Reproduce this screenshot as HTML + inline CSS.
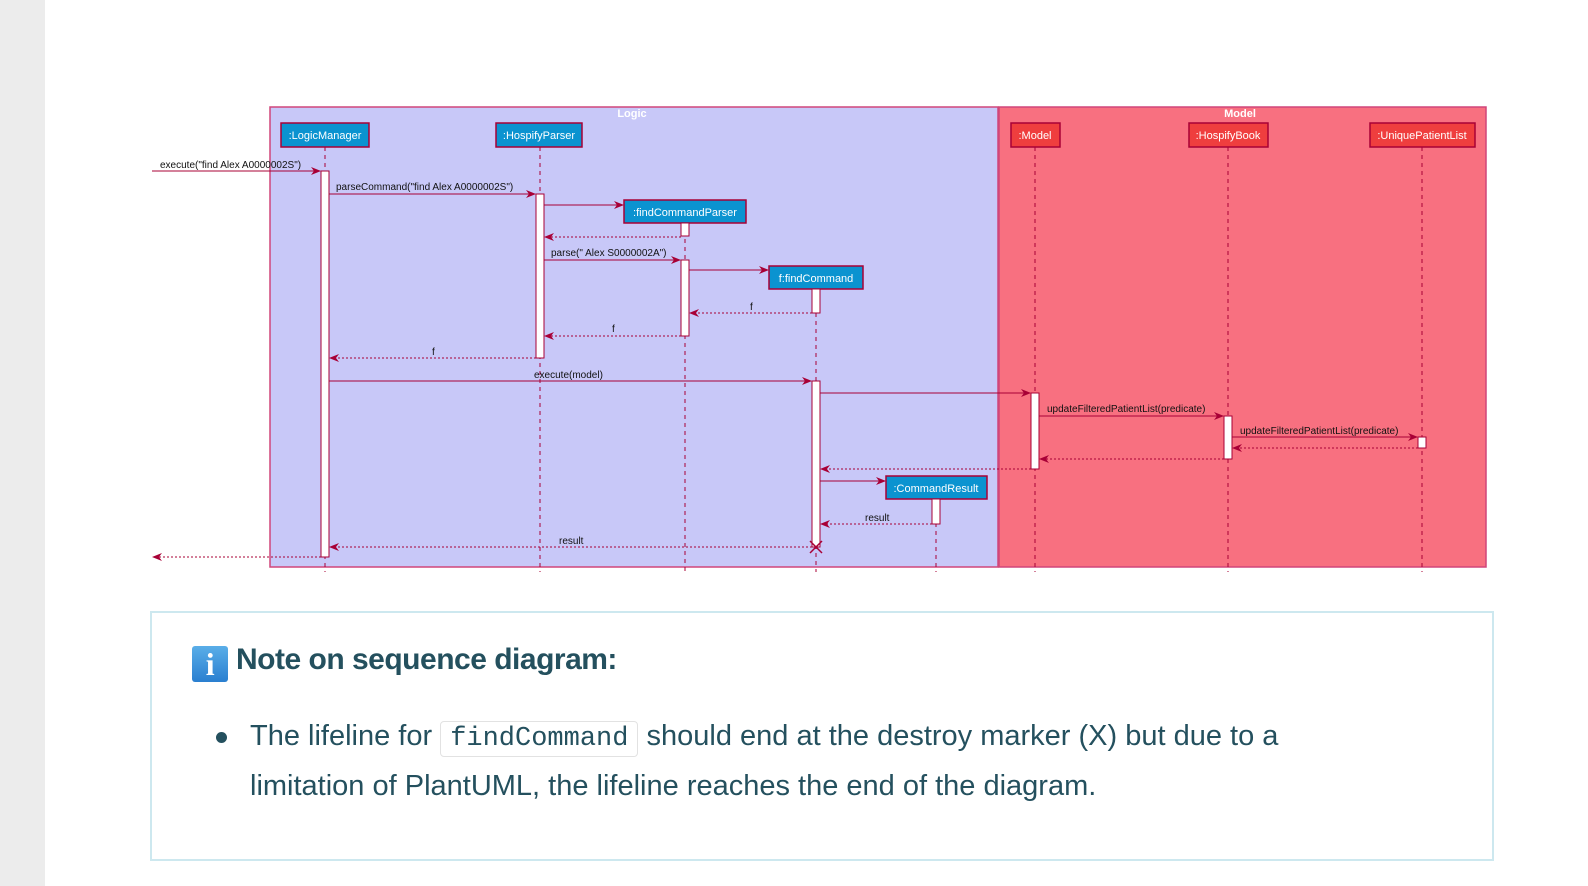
<!DOCTYPE html>
<html><head><meta charset="utf-8"><style>
body{margin:0;width:1588px;height:886px;background:#fff;position:relative;overflow:hidden;font-family:"Liberation Sans",sans-serif}
.strip{position:absolute;left:0;top:0;width:45px;height:886px;background:#ececec}
svg{position:absolute;left:0;top:0}
.note{position:absolute;left:150px;top:611px;width:1340px;height:246px;border:2px solid #cde8ef;color:#24505e}
.h{position:absolute;left:40px;top:30px;font-size:30px;font-weight:bold;letter-spacing:-0.5px}
.ic{display:inline-block;width:36px;height:36px;background:linear-gradient(#5aaee8,#2a7fd0);border-radius:3px;color:#fff;text-align:center;font-size:32px;line-height:36px;vertical-align:-6px;margin-right:8px;font-family:"Liberation Serif",serif}
.b{position:absolute;left:98px;top:100px;font-size:29px;line-height:47px;width:1120px}
.dot{position:absolute;left:-34px;top:19px;width:11px;height:11px;border-radius:50%;background:#24505e}
code{font-family:"Liberation Mono",monospace;font-size:27px;border:1px solid #e2e2e2;border-radius:4px;padding:2px 9px}
</style></head><body>
<div class="strip"></div>
<svg width="1588" height="600" font-family="Liberation Sans, sans-serif">
<defs><marker id="a" markerWidth="10" markerHeight="8" refX="9" refY="4" orient="auto" markerUnits="userSpaceOnUse"><path d="M0,0 L10,4 L0,8 L3,4z" fill="#a80036"/></marker></defs>
<rect x="270" y="107" width="728" height="460" fill="#c8c8f8" stroke="#d0467a" stroke-width="1.5"/>
<rect x="999" y="107" width="487" height="460" fill="#f87080" stroke="#d0467a" stroke-width="1.5"/>
<text x="632" y="117" fill="#fff" font-size="11" font-weight="bold" text-anchor="middle">Logic</text>
<text x="1240" y="117" fill="#fff" font-size="11" font-weight="bold" text-anchor="middle">Model</text>
<g stroke="#a80036" stroke-dasharray="4,4" stroke-width="1">
<line x1="325" y1="147" x2="325" y2="572"/><line x1="540" y1="147" x2="540" y2="572"/>
<line x1="685" y1="223" x2="685" y2="572"/><line x1="816" y1="289" x2="816" y2="572"/>
<line x1="936" y1="499" x2="936" y2="572"/><line x1="1035" y1="147" x2="1035" y2="572"/>
<line x1="1228" y1="147" x2="1228" y2="572"/><line x1="1422" y1="147" x2="1422" y2="572"/>
</g>
<g stroke="#a80036" stroke-width="1.5" font-size="11" fill="#fff">
<rect x="281" y="123" width="88" height="24" fill="#0b93d0"/>
<rect x="496" y="123" width="86" height="24" fill="#0b93d0"/>
<rect x="624" y="200" width="122" height="23" fill="#0b93d0"/>
<rect x="769" y="266" width="94" height="23" fill="#0b93d0"/>
<rect x="886" y="476" width="101" height="23" fill="#0b93d0"/>
<rect x="1011" y="123" width="49" height="24" fill="#ef3e3e"/>
<rect x="1189" y="123" width="79" height="24" fill="#ef3e3e"/>
<rect x="1370" y="123" width="105" height="24" fill="#ef3e3e"/>
</g>
<g fill="#fff" font-size="11" text-anchor="middle">
<text x="325" y="139">:LogicManager</text><text x="539" y="139">:HospifyParser</text>
<text x="685" y="216">:findCommandParser</text><text x="816" y="282">f:findCommand</text>
<text x="936" y="492">:CommandResult</text><text x="1035" y="139">:Model</text>
<text x="1228" y="139">:HospifyBook</text><text x="1422" y="139">:UniquePatientList</text>
</g>
<g fill="#fff" stroke="#a80036" stroke-width="1">
<rect x="321" y="171" width="8" height="386"/><rect x="536" y="194" width="8" height="164"/>
<rect x="681" y="223" width="8" height="13"/><rect x="681" y="260" width="8" height="76"/>
<rect x="812" y="289" width="8" height="24"/><rect x="812" y="381" width="8" height="166"/>
<rect x="932" y="499" width="8" height="25"/><rect x="1031" y="393" width="8" height="76"/>
<rect x="1224" y="416" width="8" height="43"/><rect x="1418" y="437" width="8" height="11"/>
</g>
<g stroke="#a80036" stroke-width="1" marker-end="url(#a)">
<line x1="152" y1="171" x2="320" y2="171"/><line x1="329" y1="194" x2="535" y2="194"/>
<line x1="544" y1="205" x2="623" y2="205"/><line x1="544" y1="260" x2="680" y2="260"/>
<line x1="689" y1="270" x2="768" y2="270"/><line x1="329" y1="381" x2="811" y2="381"/>
<line x1="820" y1="393" x2="1030" y2="393"/><line x1="1039" y1="416" x2="1223" y2="416"/>
<line x1="1232" y1="437" x2="1417" y2="437"/><line x1="820" y1="481" x2="885" y2="481"/>
</g>
<g stroke="#a80036" stroke-width="1" stroke-dasharray="2,2" marker-end="url(#a)">
<line x1="681" y1="237" x2="545" y2="237"/><line x1="812" y1="313" x2="690" y2="313"/>
<line x1="681" y1="336" x2="545" y2="336"/><line x1="536" y1="358" x2="330" y2="358"/>
<line x1="1418" y1="448" x2="1233" y2="448"/><line x1="1224" y1="459" x2="1040" y2="459"/>
<line x1="1031" y1="469" x2="821" y2="469"/><line x1="932" y1="524" x2="821" y2="524"/>
<line x1="812" y1="547" x2="330" y2="547"/><line x1="321" y1="557" x2="153" y2="557"/>
</g>
<g stroke="#a80036" stroke-width="1.5"><line x1="810" y1="541" x2="822" y2="553"/><line x1="822" y1="541" x2="810" y2="553"/></g>
<g font-size="10" fill="#111">
<text x="160" y="168">execute("find Alex A0000002S")</text>
<text x="336" y="190">parseCommand("find Alex A0000002S")</text>
<text x="551" y="256">parse(" Alex S0000002A")</text>
<text x="750" y="310">f</text><text x="612" y="332">f</text><text x="432" y="355">f</text>
<text x="534" y="378">execute(model)</text>
<text x="1047" y="412">updateFilteredPatientList(predicate)</text>
<text x="1240" y="434">updateFilteredPatientList(predicate)</text>
<text x="865" y="521">result</text><text x="559" y="544">result</text>
</g>
</svg>
<div class="note">
<div class="h"><span class="ic">i</span>Note on sequence diagram:</div>
<div class="b"><div class="dot"></div>The lifeline for <code>findCommand</code> should end at the destroy marker (X) but due to a limitation of PlantUML, the lifeline reaches the end of the diagram.</div>
</div>
</body></html>
